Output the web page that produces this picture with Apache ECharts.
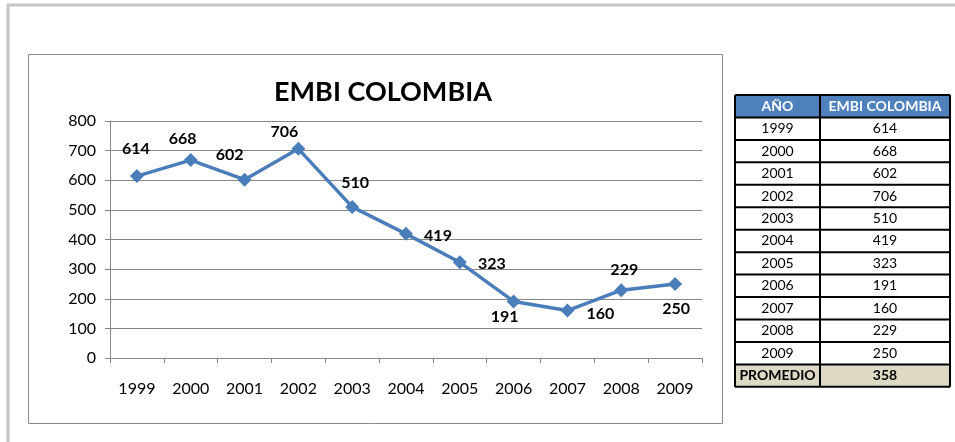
<!DOCTYPE html>
<html>
<head>
<meta charset="utf-8">
<script src="https://cdn.jsdelivr.net/npm/echarts@6/dist/echarts.min.js"></script>
<style>
html,body{margin:0;padding:0;background:#fff;}
#chart{width:955px;height:442px;}
</style>
</head>
<body>
<div id="chart"></div>
<script>
// ---- data ----
var years = ['1999','2000','2001','2002','2003','2004','2005','2006','2007','2008','2009'];
var embi = [614, 668, 602, 706, 510, 419, 323, 191, 160, 229, 250];
var promedio = 358;
var yTicks = [0, 100, 200, 300, 400, 500, 600, 700, 800];
var titleText = 'EMBI COLOMBIA';
var tableHeader = ['AÑO', 'EMBI COLOMBIA'];
var promedioLabel = 'PROMEDIO';

// ---- label placement (style, not data) ----
var labelOffsets = [[-1,-27],[-8,-21],[-15,-25],[-14,-17],[3,-24],[32,2],[32,2],[-9,15],[33,3],[3,-20],[1,25]];

var FONT = 'Lato';
var chart = echarts.init(document.getElementById('chart'), null, {renderer:'canvas'});

var seriesData = embi.map(function(v,i){
  return {value:v, label:{show:true, position:'inside', offset:labelOffsets[i]}};
});

// table graphic
var tx0 = 735, tx1 = 820, tx2 = 950, ty0 = 95, rh = 22.45;
var nRows = years.length + 2;
var g = [];
// outer frame
g.push({type:'rect', shape:{x:8, y:5, width:960, height:460}, style:{fill:'none', stroke:'#c6c6c6', lineWidth:3}, silent:true});
// chart box
g.push({type:'rect', shape:{x:28.5, y:54.5, width:694, height:369}, style:{fill:'none', stroke:'#8a8a8a', lineWidth:1}, silent:true});
// header fill
g.push({type:'rect', shape:{x:tx0, y:ty0, width:tx2-tx0, height:rh}, style:{fill:'#4f81bd'}});
// promedio fill
g.push({type:'rect', shape:{x:tx0, y:ty0+rh*(nRows-1), width:tx2-tx0, height:rh}, style:{fill:'#ddd9c4'}});
// header text
g.push({type:'text', x:(tx0+tx1)/2, y:ty0+rh/2, style:{text:tableHeader[0], fill:'#fff', font:'bold 14px '+FONT, align:'center', verticalAlign:'middle'}});
g.push({type:'text', x:(tx1+tx2)/2, y:ty0+rh/2, style:{text:tableHeader[1], fill:'#fff', font:'bold 14px '+FONT, align:'center', verticalAlign:'middle'}});
years.forEach(function(y,i){
  var cy = ty0 + rh*(i+1) + rh/2;
  g.push({type:'text', x:(tx0+tx1)/2, y:cy, style:{text:y, fill:'#000', font:'14px '+FONT, align:'center', verticalAlign:'middle'}});
  g.push({type:'text', x:(tx1+tx2)/2, y:cy, style:{text:String(embi[i]), fill:'#000', font:'14px '+FONT, align:'center', verticalAlign:'middle'}});
});
var py = ty0 + rh*(nRows-1) + rh/2;
g.push({type:'text', x:(tx0+tx1)/2, y:py, style:{text:promedioLabel, fill:'#000', font:'bold 14px '+FONT, align:'center', verticalAlign:'middle'}});
g.push({type:'text', x:(tx1+tx2)/2, y:py, style:{text:String(promedio), fill:'#000', font:'bold 14px '+FONT, align:'center', verticalAlign:'middle'}});
// table lines
for (var r=0; r<=nRows; r++){
  var yy = ty0 + rh*r;
  g.push({type:'line', shape:{x1:tx0, y1:yy, x2:tx2, y2:yy}, style:{stroke:'#000', lineWidth:2}});
}
[tx0, tx1, tx2].forEach(function(xx){
  g.push({type:'line', shape:{x1:xx, y1:ty0, x2:xx, y2:ty0+rh*nRows}, style:{stroke:'#000', lineWidth:2}});
});

var option = {
  animation:false,
  backgroundColor:'#fff',
  title:{text:titleText, left:378, top:74, textAlign:'center',
    textStyle:{fontFamily:FONT, fontWeight:'bold', fontSize:27, color:'#000'}},
  grid:{left:110, right:253, top:121, bottom:84, containLabel:false},
  xAxis:{type:'category', data:years, boundaryGap:true,
    axisLine:{lineStyle:{color:'#868686', width:1}},
    axisTick:{show:true, length:5, inside:false, lineStyle:{color:'#868686'}},
    axisLabel:{fontFamily:FONT, fontSize:16, color:'#000', margin:23}},
  yAxis:{type:'value', min:yTicks[0], max:yTicks[yTicks.length-1], interval:100,
    axisLine:{show:true, lineStyle:{color:'#868686', width:1}},
    axisTick:{show:true, length:5, lineStyle:{color:'#868686'}},
    axisLabel:{fontFamily:FONT, fontSize:16, color:'#000', margin:14},
    splitLine:{lineStyle:{color:'#868686', width:1}}},
  series:[{type:'line', data:seriesData, symbol:'diamond', symbolSize:14,
    lineStyle:{color:'#4a7ebb', width:3.5},
    itemStyle:{color:'#4a7ebb'},
    label:{fontFamily:FONT, fontWeight:'bold', fontSize:16, color:'#000'}}],
  graphic:g
};
chart.setOption(option);
</script>
</body>
</html>
